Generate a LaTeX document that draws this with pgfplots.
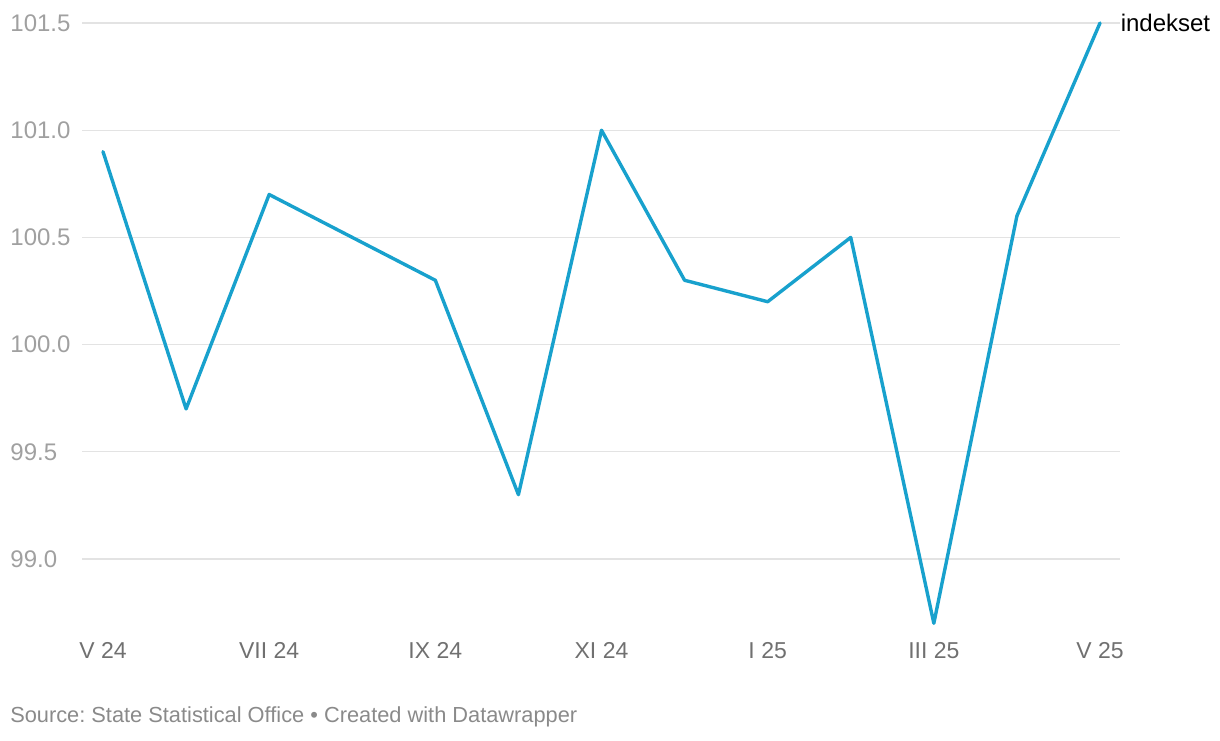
\documentclass[border=0pt]{standalone}
\usepackage{pgfplots}
\pgfplotsset{compat=1.18}
\usepackage{fontspec}
\setmainfont{Liberation Sans}
\frenchspacing
\definecolor{linecol}{HTML}{18A1CD}
\definecolor{gridcol}{HTML}{E3E3E3}
\definecolor{ylab}{HTML}{A0A0A0}
\definecolor{xlab}{HTML}{707070}
\definecolor{srccol}{HTML}{8A8A8A}
\begin{document}
\begin{tikzpicture}
\useasboundingbox (0,0) rectangle (610pt,370pt);
\begin{axis}[
  at={(41pt,58.35pt)}, anchor=south west,
  scale only axis, width=519pt, height=300.15pt,
  xmin=-0.2528, xmax=12.2407,
  ymin=98.7, ymax=101.5,
  axis line style={draw=none},
  tick style={draw=none},
  ytick={99,99.5,100,100.5,101,101.5},
  yticklabels={99.0,99.5,100.0,100.5,101.0,101.5},
  ymajorgrids, grid style={gridcol, line width=0.6pt},
  xtick={0,2,4,6,8,10,12},
  xticklabels={V 24,VII 24,IX 24,XI 24,I 25,III 25,V 25},
  yticklabel style={anchor=west, xshift=-39.3pt, font=\fontsize{12}{14}\selectfont, text=ylab},
  xticklabel style={anchor=center, yshift=-13.5pt, font=\fontsize{11.5}{14}\selectfont, text=xlab},
  clip=false,
]
\addplot[linecol, line width=1.7pt, line join=round, line cap=round] coordinates {
(0,100.9) (1,99.7) (2,100.7) (3,100.5) (4,100.3) (5,99.3) (6,101.0)
(7,100.3) (8,100.2) (9,100.5) (10,98.7) (11,100.6) (12,101.5)
} node[pos=1, anchor=west, xshift=6.2pt, font=\fontsize{12}{14}\selectfont, text=black] {indekset};
\end{axis}
\node[anchor=west, font=\fontsize{10.9}{13}\selectfont, text=srccol] at (1.6pt,11.5pt) {Source: State Statistical Office • Created with Datawrapper};
\end{tikzpicture}
\end{document}
